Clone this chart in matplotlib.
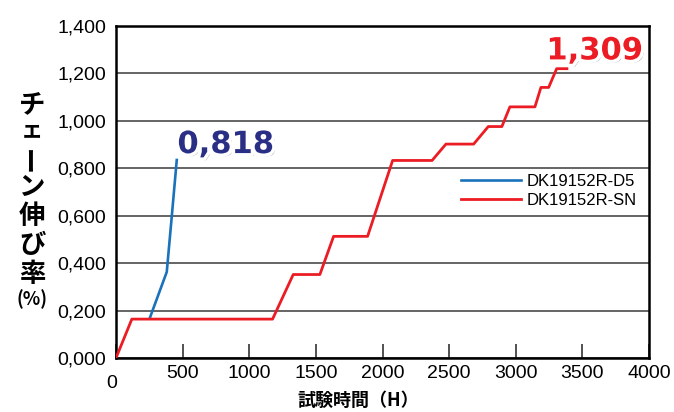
import matplotlib
matplotlib.use("Agg")
import matplotlib.pyplot as plt
import matplotlib.patheffects as pe
from matplotlib.ticker import FuncFormatter
from matplotlib.transforms import ScaledTranslation

# data
d5_hours = [254, 381, 419, 456]
d5_elong = [0.169, 0.363, 0.600, 0.835]

sn_hours = [0, 119, 1175, 1330, 1530, 1633, 1888, 2076, 2372, 2476, 2684, 2794,
            2896, 2956, 3144, 3189, 3247, 3307, 3384]
sn_elong = [0.0, 0.164, 0.164, 0.352, 0.352, 0.513, 0.513, 0.833, 0.833, 0.902,
            0.902, 0.976, 0.976, 1.059, 1.059, 1.141, 1.141, 1.220, 1.220]

series_names = ["DK19152R-D5", "DK19152R-SN"]
peak_labels = ["0,818", "1,309"]
x_ticks = [0, 500, 1000, 1500, 2000, 2500, 3000, 3500, 4000]
y_ticks = [0.0, 0.2, 0.4, 0.6, 0.8, 1.0, 1.2, 1.4]

BLUE = "#1a72bb"
RED = "#ec1c24"
NAVY = "#2a2f86"

plt.rcParams["font.family"] = ["Liberation Sans", "DejaVu Sans"]

fig = plt.figure(figsize=(6.74, 4.12), dpi=100)
ax = fig.add_axes([116 / 674, 1 - 358 / 412, 533 / 674, 332 / 412])

ax.plot(d5_hours, d5_elong, color=BLUE, lw=1.9, label=series_names[0], zorder=3)
ax.plot(sn_hours, sn_elong, color=RED, lw=2.0, label=series_names[1], zorder=3)

ax.set_xlim(0, 4000)
ax.set_ylim(0, 1.4)
ax.set_xticks(x_ticks)
ax.set_yticks(y_ticks)
ax.yaxis.set_major_formatter(FuncFormatter(lambda v, p: f"{v:.3f}".replace(".", ",")))
ax.tick_params(axis="x", direction="in", length=10, width=1.2, color="#333333",
               labelsize=14, pad=5)
ax.tick_params(axis="y", length=0, labelsize=14, pad=7)
ax.grid(axis="y", color="#3a3a3a", lw=1.1)
for s in ax.spines.values():
    s.set_linewidth(1.8)
    s.set_color("black")

# the "0" on the x axis sits a little lower-left in the original
lbl0 = ax.get_xticklabels()[0]
lbl0.set_transform(lbl0.get_transform() + ScaledTranslation(-3 / 72, -7 / 72, fig.dpi_scale_trans))

leg = ax.legend(loc="center left", bbox_to_anchor=(461 / 674, 1 - 191 / 412),
                bbox_transform=fig.transFigure, frameon=False, fontsize=12,
                handlelength=3.6, handletextpad=0.35, labelspacing=0.25,
                borderpad=0, borderaxespad=0)

effects = [pe.SimplePatchShadow(offset=(2, -2), shadow_rgbFace="#777777", alpha=0.6),
           pe.withStroke(linewidth=5, foreground="white")]
ax.text(d5_hours[-1] + 5, 0.90, peak_labels[0], color=NAVY, fontsize=22,
        fontweight="bold", family="DejaVu Sans", ha="left", va="center",
        path_effects=effects, zorder=5)
ax.text(3230, 1.295, peak_labels[1], color=RED, fontsize=22,
        fontweight="bold", family="DejaVu Sans", ha="left", va="center",
        path_effects=effects, zorder=5)

# vertical y label, one glyph per row
jp = ["Noto Sans CJK JP", "DejaVu Sans"]
chars = ["チ", "ェ", "ー", "ン", "伸", "び", "率"]
ys = [105, 131, 158, 187, 216, 246, 274]
sizes = [19, 16, 19, 19, 19, 19, 19]
for ch, py, fs in zip(chars, ys, sizes):
    fig.text(32 / 674, 1 - py / 412, ch, family=jp, fontweight="bold",
             fontsize=fs, ha="center", va="center",
             rotation=90 if ch == "ー" else 0)
fig.text(32 / 674, 1 - 299 / 412, "(%)", family=jp, fontweight="bold",
         fontsize=13, ha="center", va="center")

fig.text(358 / 674, 1 - 400 / 412, "試験時間（H）", family=jp, fontweight="bold",
         fontsize=13, ha="center", va="center")

fig.savefig("out.png", dpi=100)
